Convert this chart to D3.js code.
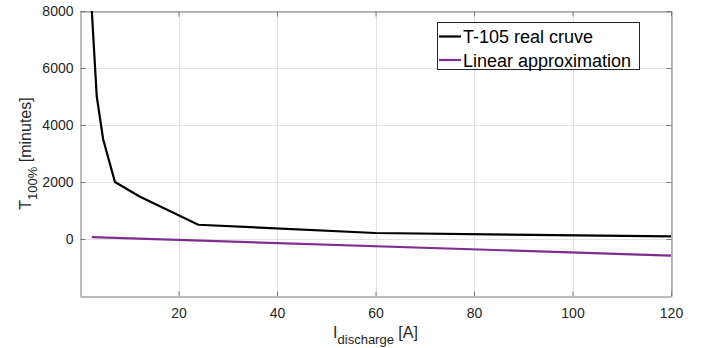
<!DOCTYPE html>
<html><head><meta charset="utf-8">
<script src="https://cdn.jsdelivr.net/npm/d3@7/dist/d3.min.js"></script>
<style>body{margin:0;background:#fff}svg{display:block;font-family:"Liberation Sans",Arial,sans-serif}</style>
</head><body>
<svg id="c" width="711" height="348"></svg>
<script>
const realI = [2.4, 3.4, 4.7, 7.1, 12, 24, 60, 120];
const realT = [8000, 5000, 3500, 2000, 1500, 500, 210, 90];
const linI = [2.4, 120];
const linT = [65, -585];
const xTicks = [20, 40, 60, 80, 100, 120];
const yTicks = [0, 2000, 4000, 6000, 8000];
const seriesNames = ["T-105 real cruve", "Linear approximation"];
const seriesColors = ["#000000", "#7E2F8E"];

const svg = d3.select("#c");
const L = 80, R = 671, T = 11, B = 296;
const x = d3.scaleLinear().domain([0, 120]).range([L, R]);
const y = d3.scaleLinear().domain([-2000, 8000]).range([B, T]);
const txt = "#262626";

svg.append("rect").attr("x", L).attr("y", T).attr("width", R - L).attr("height", B - T).attr("fill", "#fff");

// grid
const g = svg.append("g");
g.selectAll(".gx").data(xTicks).join("line")
  .attr("x1", d => Math.round(x(d)) + 0.5).attr("x2", d => Math.round(x(d)) + 0.5)
  .attr("y1", T).attr("y2", B).attr("stroke", "#e2e2e2").attr("stroke-width", 1);
g.selectAll(".gy").data(yTicks).join("line")
  .attr("y1", d => Math.round(y(d)) + 0.5).attr("y2", d => Math.round(y(d)) + 0.5)
  .attr("x1", L).attr("x2", R).attr("stroke", "#e2e2e2").attr("stroke-width", 1);

// axes
const fmt = d3.format("d");
const xAxis = d3.axisBottom(x).tickValues(xTicks).tickFormat(fmt).tickSizeInner(-5).tickSizeOuter(0).tickPadding(12);
const yAxis = d3.axisLeft(y).tickValues(yTicks).tickFormat(fmt).tickSizeInner(-5).tickSizeOuter(0).tickPadding(7);
const gx = svg.append("g").attr("transform", `translate(0,${B + 0.5})`).call(xAxis);
const gy = svg.append("g").attr("transform", `translate(${L + 0.5},0)`).call(yAxis);
const gxt = svg.append("g").attr("transform", `translate(0,${T + 0.5})`).call(d3.axisTop(x).tickValues(xTicks).tickSizeInner(-5).tickSizeOuter(0).tickFormat(""));
const gyr = svg.append("g").attr("transform", `translate(${R + 0.5},0)`).call(d3.axisRight(y).tickValues(yTicks).tickSizeInner(-5).tickSizeOuter(0).tickFormat(""));
[gx, gy, gxt, gyr].forEach(a => {
  a.select(".domain").attr("stroke", "#7a7a7a");
  a.selectAll(".tick line").attr("stroke", "#7a7a7a");
  a.selectAll("text").attr("fill", txt).style("font-size", "14px").style("font-family", '"Liberation Sans",Arial,sans-serif');
});

// lines
const clip = svg.append("clipPath").attr("id", "clp").append("rect").attr("x", L).attr("y", T).attr("width", R - L).attr("height", B - T);
const line = d3.line().x(d => x(d[0])).y(d => y(d[1]));
const realData = realI.map((v, i) => [v, realT[i]]);
const linData = linI.map((v, i) => [v, linT[i]]);
svg.append("path").datum(linData).attr("d", line).attr("fill", "none").attr("stroke", seriesColors[1]).attr("stroke-width", 2.2).attr("clip-path", "url(#clp)");
svg.append("path").datum(realData).attr("d", line).attr("fill", "none").attr("stroke", seriesColors[0]).attr("stroke-width", 2.2).attr("stroke-linejoin", "miter").attr("clip-path", "url(#clp)");

// legend
const lg = svg.append("g");
lg.append("rect").attr("x", 437.5).attr("y", 22.5).attr("width", 202).attr("height", 47).attr("fill", "#fff").attr("stroke", "#262626").attr("stroke-width", 1);
seriesNames.forEach((n, i) => {
  const cy = 36.5 + i * 23.5;
  lg.append("line").attr("x1", 439).attr("x2", 461).attr("y1", cy).attr("y2", cy).attr("stroke", seriesColors[i]).attr("stroke-width", 2.2);
  lg.append("text").attr("x", 463).attr("y", cy + 6.5).attr("fill", "#000").style("font-size", "18px").text(n);
});

// x label
const xl = svg.append("text").attr("x", (L + R) / 2).attr("y", 338).attr("text-anchor", "middle").attr("fill", txt).style("font-size", "16px");
xl.append("tspan").text("I");
xl.append("tspan").attr("dy", 6).style("font-size", "13px").text("discharge");
xl.append("tspan").attr("dy", -6).text(" [A]");

// y label
const yl = svg.append("text").attr("transform", `translate(31,${(T + B) / 2}) rotate(-90)`).attr("text-anchor", "middle").attr("fill", txt).style("font-size", "16px");
yl.append("tspan").text("T");
yl.append("tspan").attr("dy", 6).style("font-size", "13px").text("100%");
yl.append("tspan").attr("dy", -6).text(" [minutes]");
</script>
</body></html>
